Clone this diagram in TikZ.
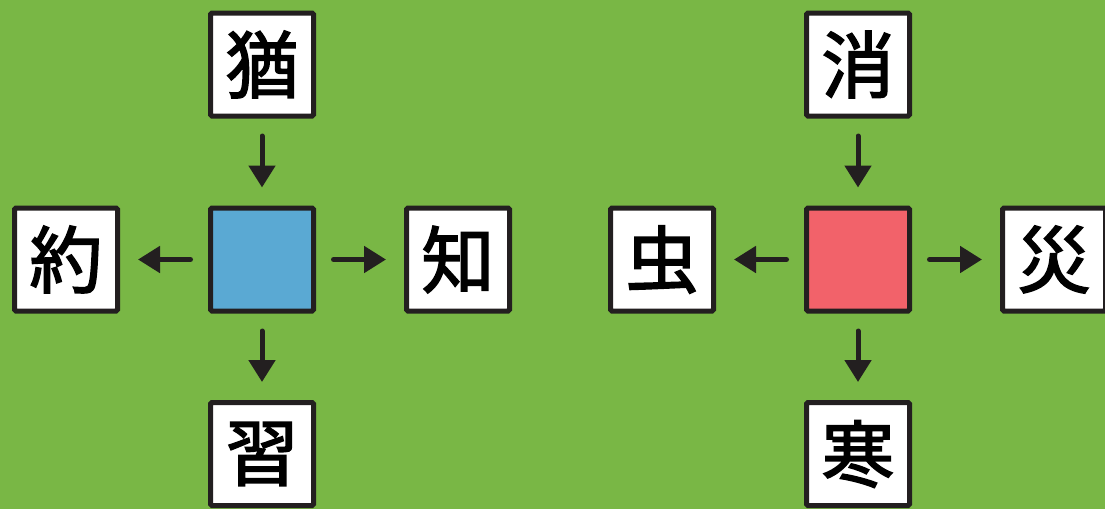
\documentclass[tikz,border=0pt]{standalone}
\usepackage{fontspec}
\newfontfamily\cjk{Noto Sans CJK JP}[FakeBold=2.2]
\usetikzlibrary{arrows.meta}
\definecolor{bggreen}{HTML}{79B745}
\definecolor{boxblue}{HTML}{5AA9D3}
\definecolor{boxred}{HTML}{F2626A}
\definecolor{ink}{HTML}{231F20}
\tikzset{
  kbox/.style={draw=ink, line width=5pt, fill=white, minimum size=103pt, inner sep=0pt, rounded corners=1.5pt, font=\cjk\fontsize{73}{73}\selectfont},
  conn/.style={draw=ink, line width=5pt, line cap=round, -{Triangle[width=26pt,length=22pt]}, shorten <=17.5pt, shorten >=18pt}
}
\begin{document}
\begin{tikzpicture}[x=1pt,y=-1pt]
\useasboundingbox (0,0) rectangle (1105,509);
\clip (0,0) rectangle (1105,509);
\fill[bggreen] (0,0) rectangle (1105,509);
% left group
\node[kbox, fill=boxblue] (c1) at (262,259.5) {};
\node[kbox] (t1) at (262,64.5) {猶};
\node[kbox] (b1) at (262,454) {習};
\node[kbox] (l1) at (66,259.5) {約};
\node[kbox] (r1) at (458,259.5) {知};
\draw[conn] (t1) -- (c1);
\draw[conn] (c1) -- (b1);
\draw[conn] (c1) -- (l1);
\draw[conn] (c1) -- (r1);
% right group
\node[kbox, fill=boxred] (c2) at (858,259.5) {};
\node[kbox] (t2) at (858,64.5) {消};
\node[kbox] (b2) at (858,454) {寒};
\node[kbox] (l2) at (662,259.5) {虫};
\node[kbox] (r2) at (1054,259.5) {災};
\draw[conn] (t2) -- (c2);
\draw[conn] (c2) -- (b2);
\draw[conn] (c2) -- (l2);
\draw[conn] (c2) -- (r2);
\end{tikzpicture}
\end{document}
